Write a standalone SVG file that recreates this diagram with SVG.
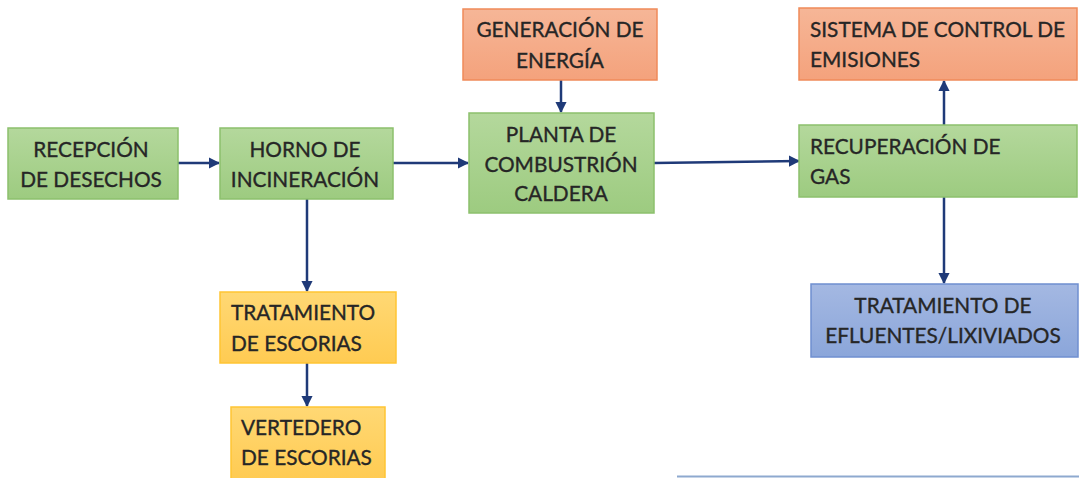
<svg xmlns="http://www.w3.org/2000/svg" width="1079" height="478" viewBox="0 0 1079 478">
<defs>
<linearGradient id="gG" x1="0" y1="0" x2="0" y2="1"><stop offset="0" stop-color="#B4D89C"/><stop offset="1" stop-color="#9DCB80"/></linearGradient>
<linearGradient id="gO" x1="0" y1="0" x2="0" y2="1"><stop offset="0" stop-color="#F6B697"/><stop offset="1" stop-color="#F4A27C"/></linearGradient>
<linearGradient id="gY" x1="0" y1="0" x2="0" y2="1"><stop offset="0" stop-color="#FFD874"/><stop offset="1" stop-color="#FFCB52"/></linearGradient>
<linearGradient id="gB" x1="0" y1="0" x2="0" y2="1"><stop offset="0" stop-color="#A4B8E2"/><stop offset="1" stop-color="#8BA6DA"/></linearGradient>
<marker id="ah" viewBox="0 0 10 10" refX="9" refY="5" markerWidth="4.5" markerHeight="4.5" orient="auto" markerUnits="strokeWidth">
<path d="M0,0 L10,5 L0,10 Z" fill="#1F3A78"/>
</marker>
</defs>
<style>
.g{fill:url(#gG);stroke:#8CC06C;stroke-width:1.5}
.o{fill:url(#gO);stroke:#F08A5A;stroke-width:1.5}
.y{fill:url(#gY);stroke:#FFC533;stroke-width:1.5}
.b{fill:url(#gB);stroke:#6F8FD0;stroke-width:1.5}
text{font-family:Lato,"Open Sans","Liberation Sans",sans-serif;font-size:20.8px;fill:#262626;stroke:#262626;stroke-width:0.35}
.c{text-anchor:middle}
.e{fill:none;stroke:#1F3A78;stroke-width:2.5;marker-end:url(#ah)}
</style>
<rect width="1079" height="478" fill="#ffffff"/>
<line x1="677" y1="476.5" x2="1079" y2="476.5" stroke="#8EA9CF" stroke-width="2"/>
<g id="connectors">
<path class="e" d="M178,163 H219"/>
<path class="e" d="M393,163 H468"/>
<path class="e" d="M654,163 L799,161"/>
<path class="e" d="M561,80 V112"/>
<path class="e" d="M307,199 V291"/>
<path class="e" d="M307,363 V406"/>
<path class="e" d="M944,125 V81"/>
<path class="e" d="M944,197 V283"/>
</g>
<g id="recepcion"><rect class="g" x="8" y="128" width="170" height="71"/>
<text class="c" x="91" y="157">RECEPCIÓN</text><text class="c" x="91" y="187">DE DESECHOS</text></g>
<g id="horno"><rect class="g" x="220" y="128" width="173" height="71"/>
<text class="c" x="305" y="157">HORNO DE</text><text class="c" x="305" y="187">INCINERACIÓN</text></g>
<g id="generacion"><rect class="o" x="463" y="9" width="194" height="71"/>
<text class="c" x="560" y="37">GENERACIÓN DE</text><text class="c" x="560" y="68">ENERGÍA</text></g>
<g id="planta"><rect class="g" x="469" y="113" width="185" height="100"/>
<text class="c" x="561" y="142">PLANTA DE</text><text class="c" x="561" y="172">COMBUSTRIÓN</text><text class="c" x="561" y="201">CALDERA</text></g>
<g id="sistema"><rect class="o" x="799" y="8" width="278" height="72"/>
<text x="810" y="37">SISTEMA DE CONTROL DE</text><text x="810" y="67">EMISIONES</text></g>
<g id="recuperacion"><rect class="g" x="799" y="125" width="278" height="72"/>
<text x="810" y="154">RECUPERACIÓN DE</text><text x="810" y="184">GAS</text></g>
<g id="tratamiento-escorias"><rect class="y" x="220" y="292" width="176" height="71"/>
<text x="231" y="320">TRATAMIENTO</text><text x="231" y="351">DE ESCORIAS</text></g>
<g id="vertedero"><rect class="y" x="231" y="407" width="154" height="72"/>
<text x="241" y="435">VERTEDERO</text><text x="241" y="465">DE ESCORIAS</text></g>
<g id="efluentes"><rect class="b" x="811" y="284" width="267" height="73"/>
<text class="c" x="943" y="313">TRATAMIENTO DE</text><text class="c" x="943" y="343">EFLUENTES/LIXIVIADOS</text></g>
</svg>
